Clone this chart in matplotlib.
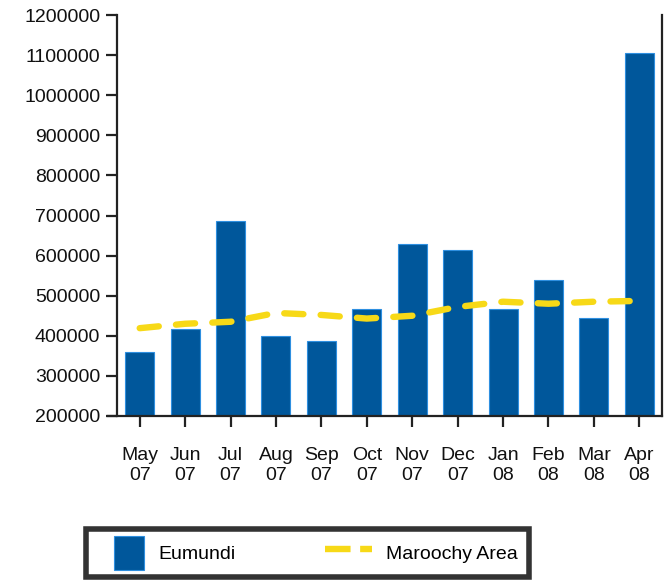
import matplotlib
matplotlib.use("Agg")
import matplotlib.pyplot as plt
from matplotlib.lines import Line2D
from matplotlib.patches import Patch, Rectangle
from matplotlib.legend_handler import HandlerPatch
import numpy as np

plt.rcParams['font.family'] = ['Liberation Sans', 'DejaVu Sans']

months = ["May\n07", "Jun\n07", "Jul\n07", "Aug\n07", "Sep\n07", "Oct\n07",
          "Nov\n07", "Dec\n07", "Jan\n08", "Feb\n08", "Mar\n08", "Apr\n08"]
eumundi = [360000, 416000, 686000, 399000, 388000, 466000,
           630000, 613000, 466000, 540000, 444000, 1106000]
maroochy = [419000, 430000, 435000, 457000, 452000, 443000,
            450000, 472000, 485000, 480000, 485000, 487000]
yticks = [200000, 300000, 400000, 500000, 600000, 700000, 800000,
          900000, 1000000, 1100000, 1200000]

bar_color = "#00579B"
line_color = "#F7D917"
fs = 14

fig = plt.figure(figsize=(6.67, 5.82), dpi=100)
ax = fig.add_axes([117/667, 1-416/582, (662-117)/667, (416-15)/582])

x = np.arange(len(months))
base = yticks[0]
ax.bar(x, np.array(eumundi) - base, bottom=base, width=0.64, color=bar_color,
       edgecolor="#2E8FE0", linewidth=0.8, zorder=2)
ax.plot(x, maroochy, color=line_color, linewidth=4.6, dashes=(3.0, 2.7),
        dash_capstyle='round', solid_capstyle='round', zorder=3)

ax.set_xlim(-0.5, len(months) - 0.5)
ax.set_ylim(yticks[0], yticks[-1])
ax.set_yticks(yticks)
ax.set_yticklabels([str(v) for v in yticks])
ax.set_xticks(x)
ax.set_xticklabels(months, linespacing=1.3)

ax.spines['top'].set_visible(False)
for s in ['left', 'bottom', 'right']:
    ax.spines[s].set_linewidth(1.6)
    ax.spines[s].set_color('#222222')
ax.spines['bottom'].set_bounds(-0.5 - 0.2, len(months) - 0.5)
ax.tick_params(axis='both', direction='out', length=8, width=1.6,
               color='#222222', labelsize=fs, labelcolor='#111111')
ax.tick_params(axis='x', pad=14)
ax.tick_params(axis='y', pad=4)


def square_patch(legend, orig_handle, xdescent, ydescent, width, height, fontsize):
    w = 21.6
    h = 24.5
    return Rectangle((-xdescent + width - w, -ydescent + (height - h) / 2), w, h)


handles = [
    Patch(facecolor=bar_color, edgecolor='#2E8FE0', linewidth=0.8),
    Line2D([], [], color=line_color, linewidth=4.6, dashes=(4.0, 1.5),
           dash_capstyle='butt'),
]
leg = fig.legend(handles, ["Eumundi", "Maroochy Area"], loc='center',
                 bbox_to_anchor=((82+533)/2/667, 1-(526+580)/2/582),
                 ncol=2, frameon=True, fancybox=False, fontsize=fs,
                 handlelength=2.4, handleheight=1.8, columnspacing=4.6,
                 handletextpad=0.75, borderpad=0.55, borderaxespad=0,
                 handler_map={Patch: HandlerPatch(patch_func=square_patch)})
leg.get_frame().set_edgecolor('black')
leg.get_frame().set_linewidth(4)

fig.savefig("out.png", dpi=100)
